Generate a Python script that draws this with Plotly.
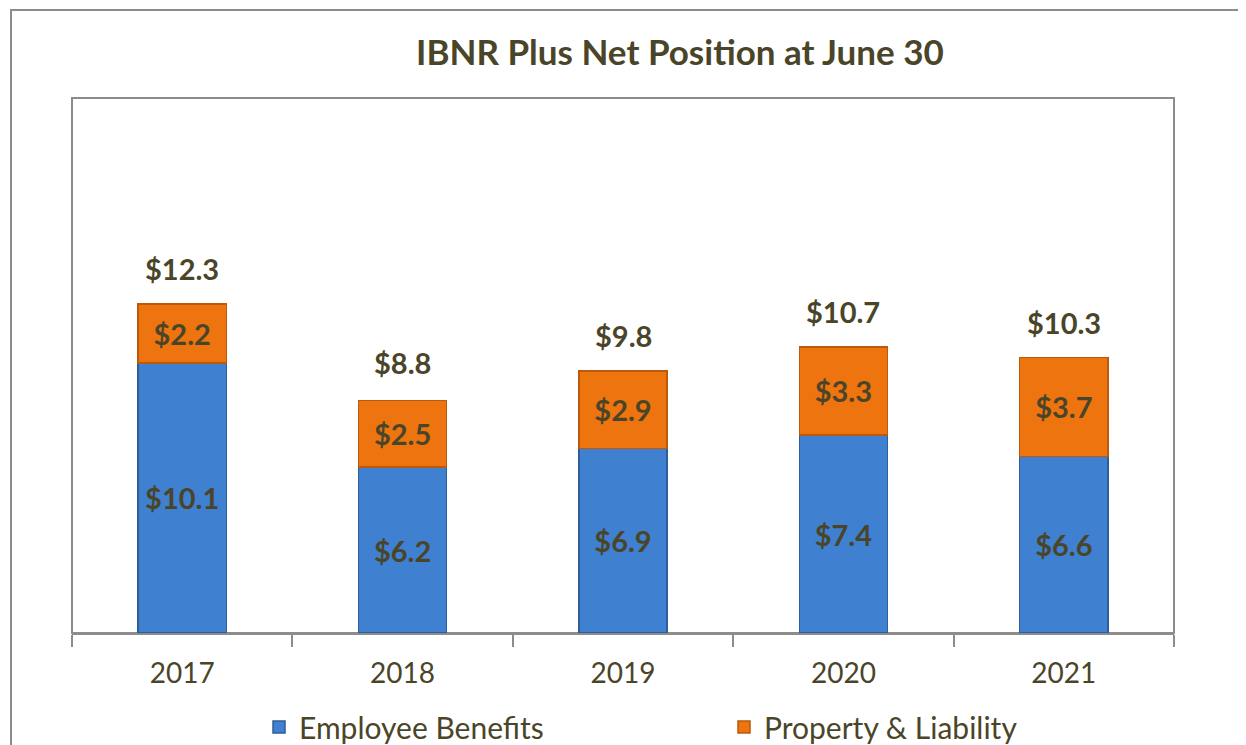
import plotly.graph_objects as go

years = ["2017", "2018", "2019", "2020", "2021"]
employee_benefits = [10.1, 6.2, 6.9, 7.4, 6.6]
property_liability = [2.2, 2.5, 2.9, 3.3, 3.7]
totals = [12.3, 8.8, 9.8, 10.7, 10.3]

TXT = "#4a4528"
FONT = "Lato"
GRAY = "#8c8c8c"

fig = go.Figure()
fig.add_trace(go.Bar(
    name="Employee Benefits", x=years, y=employee_benefits,
    marker=dict(color="#3f80d0", line=dict(color="#2d5d9a", width=1.5)),
    text=[f"${v:.1f}" for v in employee_benefits],
    textposition="inside", insidetextanchor="middle", textangle=0,
    textfont=dict(family=FONT, size=29, color=TXT, weight="bold"),
    width=0.4,
))
fig.add_trace(go.Bar(
    name="Property & Liability", x=years, y=property_liability,
    marker=dict(color="#ee7410", line=dict(color="#bb5a0a", width=1.5)),
    text=[f"${v:.1f}" for v in property_liability],
    textposition="inside", insidetextanchor="middle", textangle=0,
    textfont=dict(family=FONT, size=29, color=TXT, weight="bold"),
    width=0.4,
))

for i, t in enumerate(totals):
    fig.add_annotation(x=i, y=t, text=f"<b>${t:.1f}</b>", showarrow=False,
                       yshift=35, font=dict(family=FONT, size=29, color=TXT))

# page has an 8px body margin; figure coordinates are offset accordingly
OFF = 8
W, H = 1246 - OFF, 745 - OFF
ml, mt = 72 - OFF, 98 - OFF
pr, pb = 1174 - OFF, 633 - OFF
mr, mb = W - pr, H - pb
pw, ph = W - ml - mr, H - mt - mb

# outer chart border
fig.add_shape(type="rect", xref="paper", yref="paper",
              x0=(11 - OFF - ml) / pw, x1=(1400 - ml) / pw,
              y0=-1.0, y1=(pb - (10 - OFF)) / ph,
              line=dict(color=GRAY, width=2), layer="below")
# plot area border
fig.add_shape(type="rect", xref="paper", yref="paper", x0=0, x1=1, y0=0, y1=1,
              line=dict(color=GRAY, width=2), layer="below")

fig.update_layout(
    width=W, height=H, barmode="stack",
    margin=dict(l=ml, r=mr, t=mt, b=mb, autoexpand=False),
    paper_bgcolor="white", plot_bgcolor="white",
    title=dict(text="<b>IBNR Plus Net Position at June 30</b>",
               x=(680 - OFF) / W, xanchor="center", y=1 - (53 - OFF) / H, yanchor="middle",
               yref="container", xref="container",
               font=dict(family=FONT, size=35, color=TXT)),
    xaxis=dict(type="category", range=[-0.5, len(years) - 0.5], showline=True,
               linecolor=GRAY, linewidth=2, ticks="outside",
               tickson="boundaries", ticklen=12, tickcolor=GRAY, tickwidth=2,
               tickangle=0, automargin=False, ticklabelstandoff=14,
               tickfont=dict(family=FONT, size=28, color=TXT), showgrid=False),
    yaxis=dict(range=[0, 20], visible=False, showgrid=False),
    showlegend=True,
    legend=dict(orientation="h", x=0.5 + 101 / pw, xanchor="center",
                y=-(727 - 633) / ph,
                yanchor="middle", entrywidth=420, entrywidthmode="pixels",
                font=dict(family=FONT, size=30, color=TXT), traceorder="normal"),
)

fig.write_html("out.html")
